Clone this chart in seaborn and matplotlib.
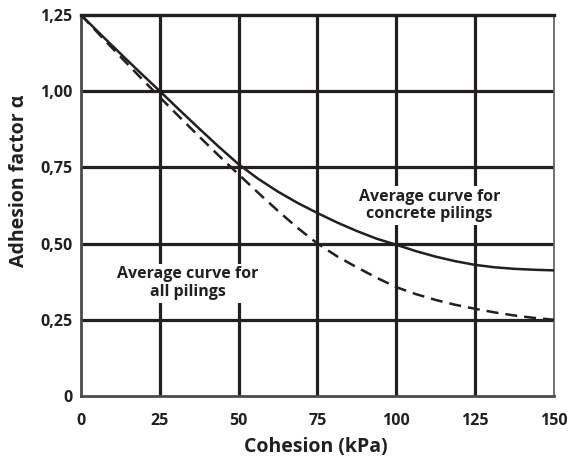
import matplotlib
matplotlib.use("Agg")
import matplotlib.pyplot as plt
import seaborn as sns
import pandas as pd

cohesion = [0, 6.25, 12.5, 18.75, 25, 31.25, 37.5, 43.75, 50, 56.25, 62.5, 68.75, 75,
            81.25, 87.5, 93.75, 100, 106.25, 112.5, 118.75, 125, 131.25, 137.5, 143.75, 150]
concrete = [1.25, 1.186, 1.123, 1.061, 1.00, 0.938, 0.877, 0.817, 0.76, 0.712, 0.67, 0.633, 0.60,
            0.569, 0.541, 0.516, 0.496, 0.475, 0.457, 0.442, 0.43, 0.422, 0.417, 0.414, 0.412]
all_piles = [1.25, 1.181, 1.113, 1.046, 0.98, 0.915, 0.851, 0.788, 0.727, 0.666, 0.607, 0.551, 0.50,
             0.458, 0.422, 0.388, 0.357, 0.334, 0.315, 0.299, 0.286, 0.274, 0.264, 0.256, 0.25]
x_ticks = [0, 25, 50, 75, 100, 125, 150]
x_tick_labels = ["0", "25", "50", "75", "100", "125", "150"]
y_ticks = [0, 0.25, 0.5, 0.75, 1.0, 1.25]
y_tick_labels = ["0", "0,25", "0,50", "0,75", "1,00", "1,25"]

sns.set_style("white")
plt.rcParams['font.family'] = ['Open Sans', 'DejaVu Sans']

df = pd.DataFrame({"c": cohesion + cohesion,
                   "a": concrete + all_piles,
                   "s": ["concrete"] * len(cohesion) + ["all"] * len(cohesion)})

fig = plt.figure(figsize=(5.74, 4.57), dpi=100)
ax = fig.add_axes([0.141, 0.1335, 0.824, 0.834])

ink = "#231f20"
for xv in x_ticks[1:-1]:
    ax.axvline(xv, color=ink, lw=2.3, zorder=1)
for yv in y_ticks[1:-1]:
    ax.axhline(yv, color=ink, lw=2.3, zorder=1)

sns.lineplot(data=df[df.s == "concrete"], x="c", y="a", ax=ax, color=ink, lw=1.8, zorder=3)
sns.lineplot(data=df[df.s == "all"], x="c", y="a", ax=ax, color=ink, lw=1.8,
             linestyle=(0, (4.8, 2.8)), zorder=3)

ax.set_xlim(0, 150)
ax.set_ylim(0, 1.25)
ax.set_xticks(x_ticks)
ax.set_xticklabels(x_tick_labels)
ax.set_yticks(y_ticks)
ax.set_yticklabels(y_tick_labels)
ax.tick_params(axis="x", length=0, labelsize=11.5, colors=ink, pad=12)
ax.tick_params(axis="y", length=0, labelsize=11.5, colors=ink, pad=6)
for lab in ax.get_xticklabels() + ax.get_yticklabels():
    lab.set_fontweight("bold")

ax.spines["left"].set_color("#4a4a4a")
ax.spines["left"].set_linewidth(2.0)
ax.spines["bottom"].set_color("#4a4a4a")
ax.spines["bottom"].set_linewidth(2.0)
ax.spines["top"].set_color(ink)
ax.spines["top"].set_linewidth(2.4)
ax.spines["right"].set_color("#666666")
ax.spines["right"].set_linewidth(1.3)

ax.set_xlabel("Cohesion (kPa)", fontsize=14, fontweight="bold", color=ink)
ax.set_ylabel("Adhesion factor α", fontsize=14, fontweight="bold", color=ink)
ax.xaxis.set_label_coords(0.496, -0.108)
ax.yaxis.set_label_coords(-0.110, 0.565)

ax.text(110.5, 0.625, "Average curve for\nconcrete pilings", ha="center", va="center",
        fontsize=11.5, fontweight="bold", color=ink, linespacing=1.15,
        bbox=dict(facecolor="white", edgecolor="none", pad=2), zorder=2)
ax.text(34, 0.37, "Average curve for\nall pilings", ha="center", va="center",
        fontsize=11.5, fontweight="bold", color=ink, linespacing=1.15,
        bbox=dict(facecolor="white", edgecolor="none", pad=2), zorder=2)

fig.savefig("out.png", dpi=100)
